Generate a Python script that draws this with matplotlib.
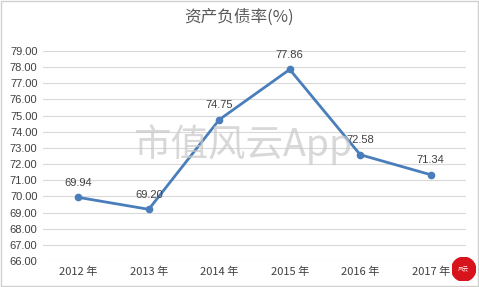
import matplotlib.pyplot as plt
from matplotlib.patches import Circle, Rectangle

plt.rcParams['font.family'] = ['Noto Sans CJK SC', 'DejaVu Sans']

# data
years = ['2012 年', '2013 年', '2014 年', '2015 年', '2016 年', '2017 年']
ratio = [69.94, 69.20, 74.75, 77.86, 72.58, 71.34]
yticks = [66 + i for i in range(14)]

fig = plt.figure(figsize=(4.79, 2.87), dpi=100)
ax = fig.add_axes([0.0898, 0.0906, 0.883, 0.7316])

x = list(range(len(years)))
ax.plot(x, ratio, color='#4A7EBB', lw=2.0, marker='o', ms=4.5, zorder=3)
for xi, v in zip(x, ratio):
    ax.annotate('%.2f' % v, (xi, v), xytext=(0, 7), textcoords='offset points',
                ha='center', va='bottom', fontsize=8, color='#404040',
                family=['Liberation Sans', 'DejaVu Sans'])

ax.set_xlim(-0.5, len(years) - 0.5)
ax.set_ylim(66, 79)
ax.set_yticks(yticks)
ax.set_yticklabels(['%.2f' % t for t in yticks], fontsize=8, color='#404040',
                   family=['Liberation Sans Narrow', 'Liberation Sans'])
ax.set_xticks(x)
ax.set_xticklabels(years, fontsize=8, color='#404040')
ax.tick_params(length=0, pad=4)
ax.grid(axis='y', color='#d9d9d9', lw=0.8)
ax.set_axisbelow(True)
for s in ax.spines.values():
    s.set_visible(False)

fig.text(0.5, 0.94, '资产负债率(%)', ha='center', va='center', fontsize=12, color='#595959')

# watermark
fig.text(0.507, 0.495, '市值风云App', ha='center', va='center', fontsize=27,
         color='#c8c8c8', alpha=0.7, zorder=5)

# border
fig.patches.append(Rectangle((0.002, 0.002), 0.996, 0.996, transform=fig.transFigure,
                             fill=False, ec='#d0d0d0', lw=1))

# logo
logo = fig.add_axes([0.943, 0.02, 0.05, 0.084])
logo.set_aspect('equal')
logo.add_patch(Circle((0.5, 0.5), 0.5, color='#d7141b'))
logo.text(0.5, 0.5, '风云', ha='center', va='center', fontsize=4, color='white')
logo.set_xlim(0, 1)
logo.set_ylim(0, 1)
logo.axis('off')

fig.savefig('out.png', dpi=100)
